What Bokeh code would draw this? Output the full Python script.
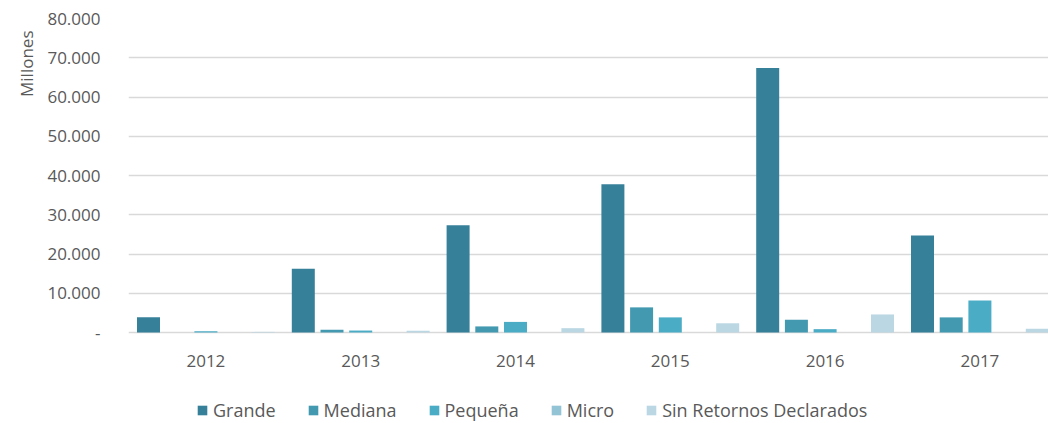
import numpy as np
from bokeh.plotting import figure
from bokeh.models import (Range1d, Legend, LegendItem, Title, CustomJSTickFormatter,
                          FixedTicker, ColumnDataSource)
from bokeh.core.properties import value
from bokeh.embed import file_html
from bokeh.resources import INLINE

years = ["2012", "2013", "2014", "2015", "2016", "2017"]
series = ["Grande", "Mediana", "Pequeña", "Micro", "Sin Retornos Declarados"]
grande = [3900, 16250, 27300, 37800, 67400, 24700]
mediana = [0, 700, 1550, 6400, 3250, 3850]
pequena = [300, 500, 2700, 3850, 850, 8150]
micro = [0, 0, 0, 0, 0, 0]
sin_retornos = [150, 450, 1100, 2350, 4600, 950]
y_ticks = [0, 10000, 20000, 30000, 40000, 50000, 60000, 70000, 80000]

values = [grande, mediana, pequena, micro, sin_retornos]
colors = ["#37809A", "#4299B0", "#4BACC6", "#93C4D6", "#BAD7E3"]

FONT = "Open Sans"
TXT = "#595959"

W, H = 1048, 423
top_px, zero_px = 18, 332          # pixel rows of 80.000 and 0
cat_px = 154.8
frame_left = 128
frame_w = W - frame_left
units_per_px = 80000 / (zero_px - top_px)
y_min = -(H - zero_px) * units_per_px

p = figure(width=W, height=H, output_backend="svg", toolbar_location=None,
           x_range=Range1d(0, frame_w / cat_px), y_range=Range1d(y_min, 80000),
           x_axis_location=None,
           min_border_left=frame_left, min_border_right=0, min_border_top=top_px,
           min_border_bottom=0)
p.outline_line_color = None
p.background_fill_color = "white"

base = np.arange(len(years)) + 0.5
step = 28.7 / cat_px
bw = 23.0 / cat_px
renderers = []
for i, (name, vals, c) in enumerate(zip(series, values, colors)):
    src = ColumnDataSource(dict(x=base + (i - 2) * step, top=vals))
    r = p.vbar(x="x", top="top", width=bw, bottom=0, source=src,
               fill_color=c, line_color=None)
    renderers.append((name, r))

# year labels under the baseline
p.text(x=base, y=[0] * len(years), text=years, y_offset=28,
       text_align="center", text_baseline="middle",
       text_font=value(FONT), text_font_size="17px", text_color=TXT)

# y axis
p.yaxis.ticker = FixedTicker(ticks=y_ticks)
p.yaxis.formatter = CustomJSTickFormatter(code="""
if (tick == 0) return '-';
return Math.round(tick).toString().replace(/\\B(?=(\\d{3})+(?!\\d))/g, '.');
""")
p.yaxis.axis_line_color = None
p.yaxis.major_tick_line_color = None
p.yaxis.minor_tick_line_color = None
p.yaxis.major_label_text_font = FONT
p.yaxis.major_label_text_color = TXT
p.yaxis.major_label_text_font_size = "17px"
p.yaxis.major_label_standoff = 22

p.xgrid.grid_line_color = None
p.ygrid.grid_line_color = "#d9d9d9"
p.ygrid.grid_line_width = 1.5

p.add_layout(Title(text="Millones", align="right", offset=12, standoff=14,
                   text_font=FONT, text_font_size="17px", text_color=TXT,
                   text_font_style="normal"), "left")

legend = Legend(items=[LegendItem(label=n, renderers=[r]) for n, r in renderers],
                orientation="horizontal", location=(68, 1),
                padding=0, margin=0, spacing=31, label_standoff=5,
                glyph_width=12, glyph_height=12, label_height=22,
                label_text_font=FONT, label_text_font_size="18px",
                label_text_color=TXT, border_line_color=None,
                background_fill_alpha=0)
p.add_layout(legend, "center")

open("out.html", "w").write(file_html(p, INLINE))
